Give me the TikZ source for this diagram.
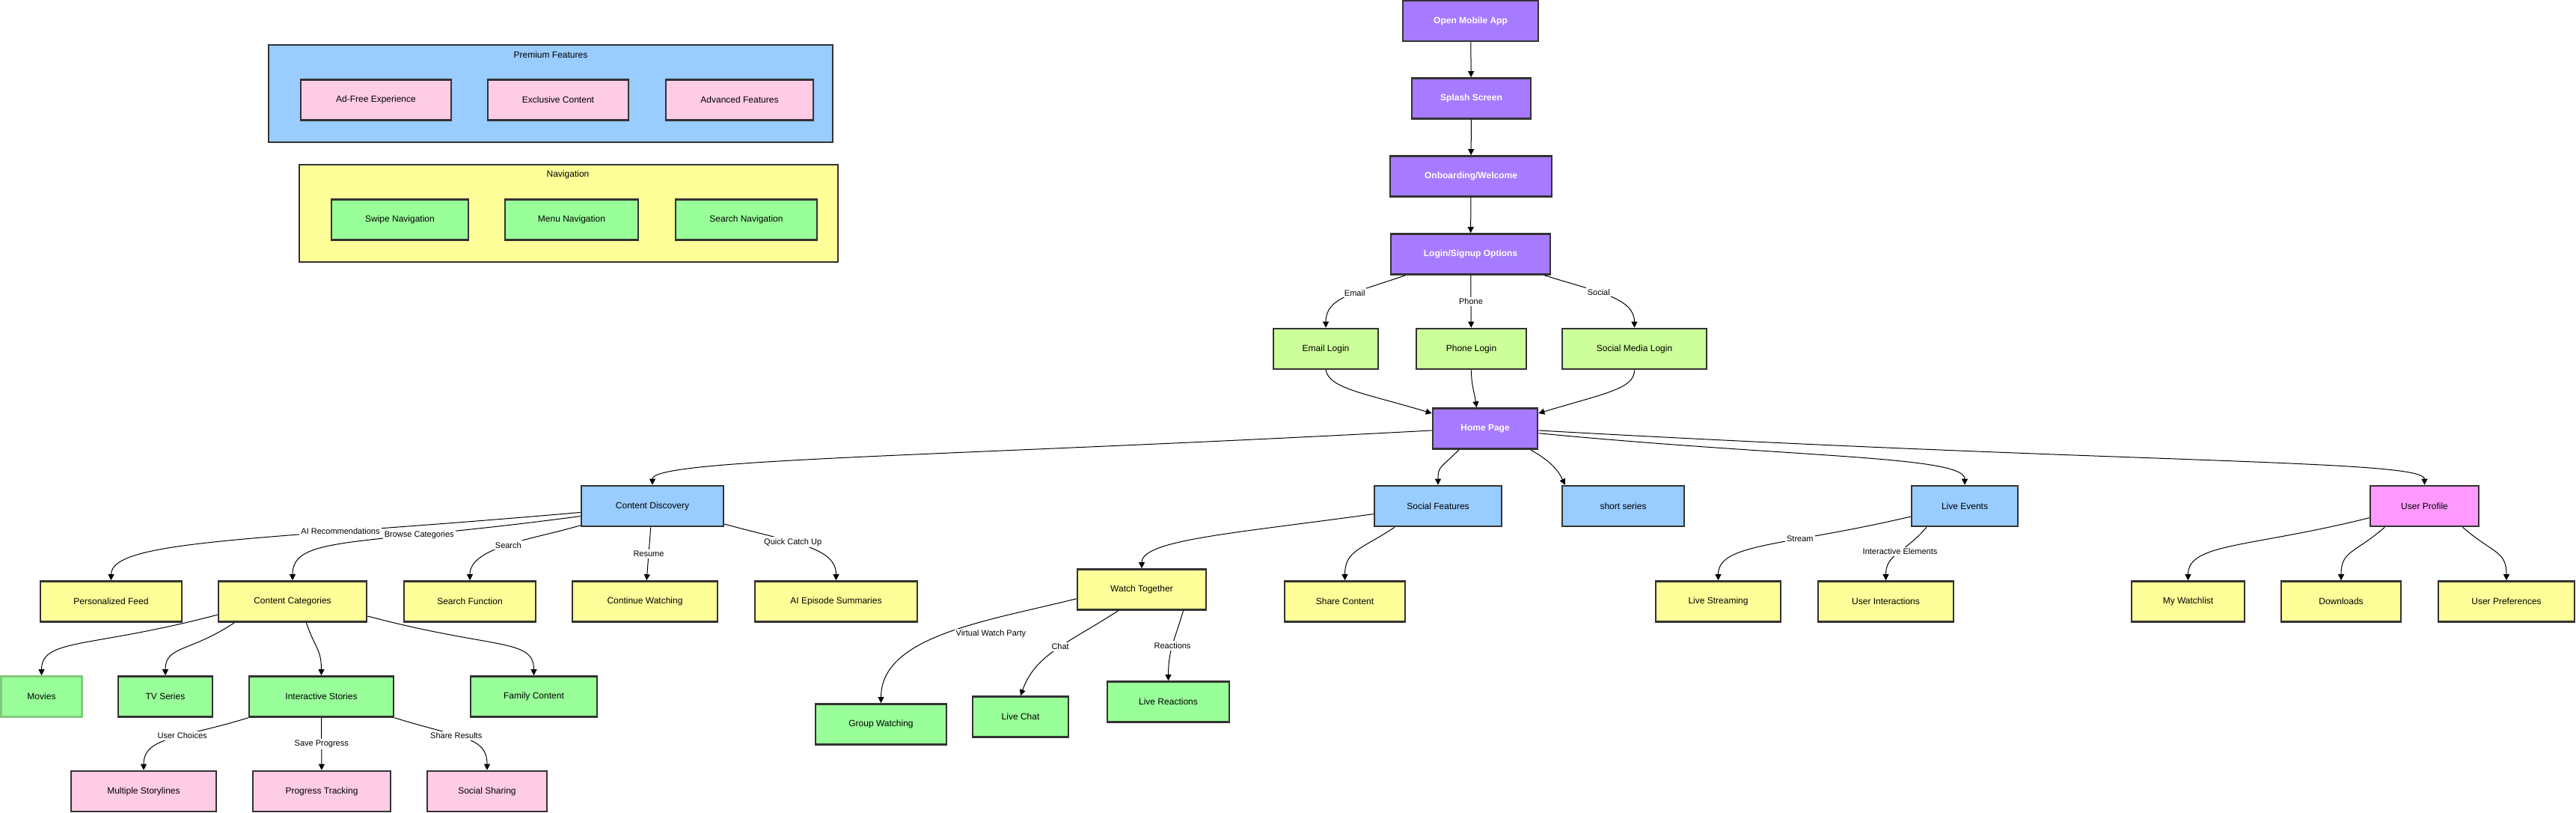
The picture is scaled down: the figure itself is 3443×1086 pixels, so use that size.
\documentclass[tikz,border=0pt]{standalone}
\usepackage{fontspec}
\setmainfont{Liberation Sans}
\usepackage{tikz}
\usetikzlibrary{arrows.meta}

\definecolor{purplebox}{HTML}{A77BFF}
\definecolor{limebox}{HTML}{CCFF99}
\definecolor{bluebox}{HTML}{99CCFF}
\definecolor{yellowbox}{HTML}{FFFF99}
\definecolor{greenbox}{HTML}{99FF99}
\definecolor{pinkbox}{HTML}{FFCCE6}
\definecolor{magentabox}{HTML}{FF99FF}
\definecolor{boxline}{HTML}{333333}
\definecolor{movieline}{HTML}{82C97F}

\begin{document}
\begin{tikzpicture}[x = 0.5pt, y = 0.5pt,
        flowbox/.style = {draw = boxline, line width = 1.3pt, minimum height = 27pt, inner sep = 0pt, align = center, font = \fontsize{6}{7}\selectfont},
        startbox/.style = {flowbox, fill = purplebox, text = white, font = \fontsize{6}{7}\selectfont\bfseries},
        loginbox/.style = {flowbox, fill = limebox},
        groupbox/.style = {flowbox, fill = bluebox},
        itembox/.style = {flowbox, fill = yellowbox},
        subbox/.style = {flowbox, fill = greenbox},
        leafbox/.style = {flowbox, fill = pinkbox},
        panel/.style = {draw = boxline, line width = 1.3pt, minimum height = 65pt, inner sep = 0pt},
        paneltitle/.style = {inner sep = 0pt, font = \fontsize{6}{7}\selectfont},
        edge/.style = {draw = black, line width = 0.5pt, -{Triangle[length = 4pt, width = 4pt]}},
        lbl/.style = {fill = white, inner sep = 1pt, font = \fontsize{5.5}{6.5}\selectfont}]

            \fill[white] (0, 0) rectangle (3443, -1086);
            \useasboundingbox (0, 0) rectangle (3443, -1086);

            \node[panel, fill = bluebox, minimum width = 377pt] (premium) at (736, -125) {};
            \node[paneltitle] (premiumtitle) at (736, -73) {Premium Features};
            \node[leafbox, minimum width = 100.5pt] (adfree) at (502.5, -133.5) {Ad-Free Experience};
            \node[leafbox, minimum width = 94pt] (exclusive) at (746, -133.5) {Exclusive Content};
            \node[leafbox, minimum width = 98.5pt] (advanced) at (988.5, -133.5) {Advanced Features};

            \node[panel, fill = yellowbox, minimum width = 360pt] (navigation) at (760, -285) {};
            \node[paneltitle] (navigationtitle) at (759, -233) {Navigation};
            \node[subbox, minimum width = 91.5pt] (swipe) at (534.5, -293.5) {Swipe Navigation};
            \node[subbox, minimum width = 89pt] (menu) at (764, -293.5) {Menu Navigation};
            \node[subbox, minimum width = 94.5pt] (searchnav) at (997.5, -293.5) {Search Navigation};

            \node[startbox, minimum width = 90.5pt] (openapp) at (1965.5, -28) {Open Mobile App};
            \node[startbox, minimum width = 79.5pt] (splash) at (1966.5, -131.5) {Splash Screen};
            \node[startbox, minimum width = 108pt] (onboarding) at (1966, -235.5) {Onboarding/Welcome};
            \node[startbox, minimum width = 106.5pt] (loginopts) at (1965.5, -339.5) {Login/Signup Options};

            \node[loginbox, minimum width = 70pt] (emaillogin) at (1772, -466) {Email Login};
            \node[loginbox, minimum width = 73.5pt] (phonelogin) at (1966.5, -466) {Phone Login};
            \node[loginbox, minimum width = 96.5pt] (sociallogin) at (2184.5, -466) {Social Media Login};

            \node[startbox, minimum width = 70pt] (home) at (1985, -572.5) {Home Page};

            \node[groupbox, minimum width = 95pt] (discovery) at (872, -676) {Content Discovery};
            \node[groupbox, minimum width = 85pt] (socialfeat) at (1922, -676) {Social Features};
            \node[groupbox, minimum width = 81.5pt] (shortseries) at (2169.5, -676) {short series};
            \node[groupbox, minimum width = 71pt] (liveevents) at (2626, -676) {Live Events};
            \node[flowbox, fill = magentabox, minimum width = 72.5pt] (profile) at (3240.5, -676) {User Profile};

            \node[itembox, minimum width = 94.5pt] (feed) at (148.5, -803.5) {Personalized Feed};
            \node[itembox, minimum width = 99pt] (categories) at (391, -803.5) {Content Categories};
            \node[itembox, minimum width = 88pt] (searchfn) at (628, -803.5) {Search Function};
            \node[itembox, minimum width = 97pt] (continue) at (862, -803.5) {Continue Watching};
            \node[itembox, minimum width = 108.5pt] (summaries) at (1117.5, -803.5) {AI Episode Summaries};
            \node[itembox, minimum width = 86pt] (together) at (1526, -787.5) {Watch Together};
            \node[itembox, minimum width = 80.5pt] (sharecontent) at (1797.5, -803.5) {Share Content};
            \node[itembox, minimum width = 83.5pt] (streaming) at (2296.5, -803.5) {Live Streaming};
            \node[itembox, minimum width = 90.5pt] (interactions) at (2520.5, -803.5) {User Interactions};
            \node[itembox, minimum width = 75.5pt] (watchlist) at (2924.5, -803.5) {My Watchlist};
            \node[itembox, minimum width = 80pt] (downloads) at (3129, -803.5) {Downloads};
            \node[itembox, minimum width = 91pt] (preferences) at (3350, -803.5) {User Preferences};

            \node[subbox, draw = movieline, minimum width = 54pt] (movies) at (55.5, -930.5) {Movies};
            \node[subbox, minimum width = 63pt] (tvseries) at (221, -930.5) {TV Series};
            \node[subbox, minimum width = 96.5pt] (interactive) at (429.5, -930.5) {Interactive Stories};
            \node[subbox, minimum width = 84.5pt] (family) at (713.5, -930.5) {Family Content};
            \node[subbox, minimum width = 87.5pt] (groupwatch) at (1177.5, -967.5) {Group Watching};
            \node[subbox, minimum width = 64pt] (livechat) at (1364, -957.5) {Live Chat};
            \node[subbox, minimum width = 81.5pt] (livereact) at (1561.5, -937.5) {Live Reactions};

            \node[leafbox, minimum width = 97pt] (storylines) at (192, -1057) {Multiple Storylines};
            \node[leafbox, minimum width = 92pt] (progress) at (430, -1057) {Progress Tracking};
            \node[leafbox, minimum width = 80pt] (sharing) at (651, -1057) {Social Sharing};

            \draw[edge] (openapp) -- (splash);
            \draw[edge] (splash) -- (onboarding);
            \draw[edge] (onboarding) -- (loginopts);

            \draw[edge] (loginopts.198) .. controls +(-70, -24) and +(0, 40) .. node[lbl, pos = 0.4] {Email} (emaillogin.north);
            \draw[edge] (loginopts) -- node[lbl] {Phone} (phonelogin);
            \draw[edge] (loginopts.344) .. controls +(70, -22) and +(0, 40) .. node[lbl, pos = 0.4] {Social} (sociallogin.north);

            \draw[edge] (emaillogin.south) .. controls +(5, -25) and +(-90, 27) .. (home.164);
            \draw[edge] (phonelogin.south) .. controls +(0, -20) and +(-3, 20) .. (home.112);
            \draw[edge] (sociallogin.south) .. controls +(0, -25) and +(90, 27) .. (home.16);

            \draw[edge] (home.182) .. controls +(-650, -35) and +(0, 35) .. (discovery.north);
            \draw[edge] (home.219) .. controls +(-25, -25) and +(0, 25) .. (socialfeat.north);
            \draw[edge] (home.335) to[out = -30, in = 115] (shortseries.160);
            \draw[edge] (home.355) .. controls +(345, -33) and +(0, 39) .. (liveevents.north);
            \draw[edge] (home.358) .. controls +(800, -45) and +(0, 34) .. (profile.north);

            \draw[edge] (discovery.185) .. controls +(-420, -37) and +(0, 55) .. node[lbl, pos = 0.3] {AI Recommendations} (feed.north);
            \draw[edge] (discovery.188) .. controls +(-300, -40) and +(0, 60) .. node[lbl, pos = 0.3] {Browse Categories} (categories.north);
            \draw[edge] (discovery.195) .. controls +(-60, -18) and +(0, 45) .. node[lbl, pos = 0.5] {Search} (searchfn.north);
            \draw[edge] (discovery) -- node[lbl] {Resume} (continue);
            \draw[edge] (discovery.-14) .. controls +(90, -25) and +(0, 45) .. node[lbl, pos = 0.4] {Quick Catch Up} (summaries.north);

            \draw[edge] (socialfeat.187) .. controls +(-187, -26) and +(0, 38) .. (together.north);
            \draw[edge] (socialfeat.206) .. controls +(-45, -30) and +(0, 40) .. (sharecontent.north);

            \draw[edge] (together.188) .. controls +(-120, -30) and +(0, 90) .. node[lbl, pos = 0.5, anchor = west, xshift = 6pt] {Virtual Watch Party} (groupwatch.north);
            \draw[edge] (together.222) .. controls +(-70, -45) and +(20, 55) .. node[lbl, pos = 0.45] {Chat} (livechat.north);
            \draw[edge] (together.333) .. controls +(-12, -40) and +(0, 40) .. node[lbl, pos = 0.5] {Reactions} (livereact.north);

            \draw[edge] (liveevents.191) .. controls +(-170, -40) and +(0, 50) .. node[lbl, pos = 0.35] {Stream} (streaming.north);
            \draw[edge] (liveevents.209) .. controls +(-30, -35) and +(0, 35) .. node[lbl, pos = 0.45] {Interactive Elements} (interactions.north);

            \draw[edge] (profile.192) .. controls +(-160, -40) and +(0, 50) .. (watchlist.north);
            \draw[edge] (profile.208) .. controls +(-40, -35) and +(0, 40) .. (downloads.north);
            \draw[edge] (profile.-29) .. controls +(40, -35) and +(0, 40) .. (preferences.north);

            \draw[edge] (categories.190) .. controls +(-170, -45) and +(0, 50) .. (movies.north);
            \draw[edge] (categories.200) .. controls +(-60, -40) and +(0, 40) .. (tvseries.north);
            \draw[edge] (categories.-57) .. controls +(12, -35) and +(0, 35) .. (interactive.north);
            \draw[edge] (categories.-11) .. controls +(170, -45) and +(0, 50) .. (family.north);

            \draw[edge] (interactive.south west) .. controls +(-90, -28) and +(0, 45) .. node[lbl, pos = 0.4] {User Choices} (storylines.north);
            \draw[edge] (interactive) -- node[lbl] {Save Progress} (progress);
            \draw[edge] (interactive.south east) .. controls +(90, -28) and +(0, 45) .. node[lbl, pos = 0.4] {Share Results} (sharing.north);

        \end{tikzpicture}
\end{document}
